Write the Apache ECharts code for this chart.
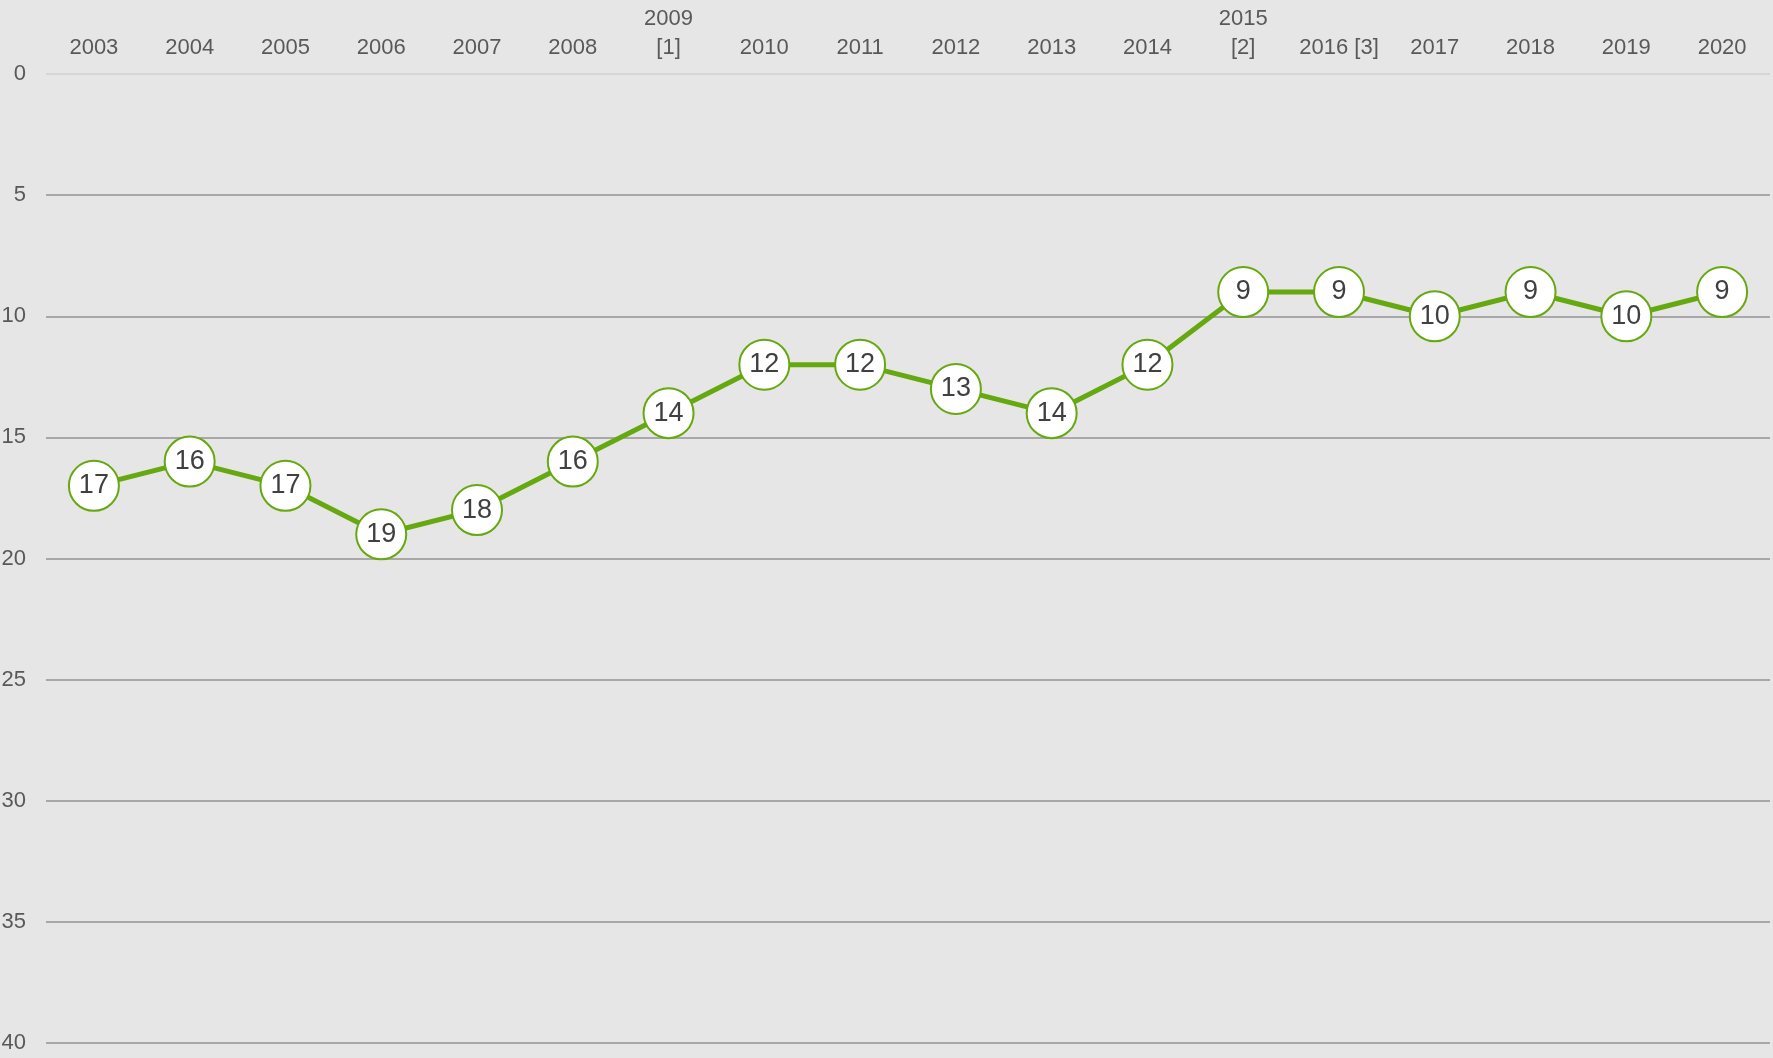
<!DOCTYPE html>
<html>
<head>
<meta charset="utf-8">
<script src="https://cdn.jsdelivr.net/npm/echarts@6/dist/echarts.min.js"></script>
<style>
    html, body { margin: 0; padding: 0; background: #e6e6e6; }
    #chart { width: 1773px; height: 1058px; }
</style>
</head>
<body>
<div id="chart"></div>
<script>
    // Годы (подписи оси X) и значения ряда
    const years = ['2003', '2004', '2005', '2006', '2007', '2008', '2009\n[1]', '2010', '2011', '2012',
        '2013', '2014', '2015\n[2]', '2016 [3]', '2017', '2018', '2019', '2020'];
    const ranks = [17, 16, 17, 19, 18, 16, 14, 12, 12, 13, 14, 12, 9, 9, 10, 9, 10, 9];

    const fontFamily = '"Liberation Sans Narrow", "Liberation Sans", Arial, sans-serif';

    const chart = echarts.init(document.getElementById('chart'));

    const option = {
        backgroundColor: '#e6e6e6',
        animation: false,
        grid: {
            left: 46,
            right: 3,
            top: 74,
            bottom: 15,
            containLabel: false,
            outerBoundsMode: 'none'
        },
        xAxis: {
            type: 'category',
            position: 'top',
            data: years,
            boundaryGap: true,
            axisLine: { show: false },
            axisTick: { show: false },
            axisLabel: {
                color: '#595959',
                fontFamily: fontFamily,
                fontSize: 22,
                lineHeight: 29,
                verticalAlign: 'bottom',
                margin: 12,
                interval: 0
            }
        },
        yAxis: {
            type: 'value',
            inverse: true,
            min: 0,
            max: 40,
            interval: 5,
            axisLine: { show: false },
            axisTick: { show: false },
            axisLabel: {
                color: '#595959',
                fontFamily: fontFamily,
                fontSize: 22,
                margin: 20
            },
            splitLine: {
                lineStyle: {
                    // верхняя линия светлее остальных
                    color: ['#d6d6d6', '#a8a8a8', '#a8a8a8', '#a8a8a8', '#a8a8a8',
                        '#a8a8a8', '#a8a8a8', '#a8a8a8', '#a8a8a8'],
                    width: 2
                }
            }
        },
        series: [
            {
                type: 'line',
                data: ranks,
                symbol: 'circle',
                symbolSize: 50,
                lineStyle: { color: '#66a80f', width: 5 },
                itemStyle: {
                    color: '#ffffff',
                    borderColor: '#66a80f',
                    borderWidth: 2
                },
                label: {
                    show: true,
                    position: 'inside',
                    color: '#404040',
                    fontFamily: fontFamily,
                    fontSize: 27
                },
                z: 3
            }
        ]
    };

    chart.setOption(option);
</script>
</body>
</html>
